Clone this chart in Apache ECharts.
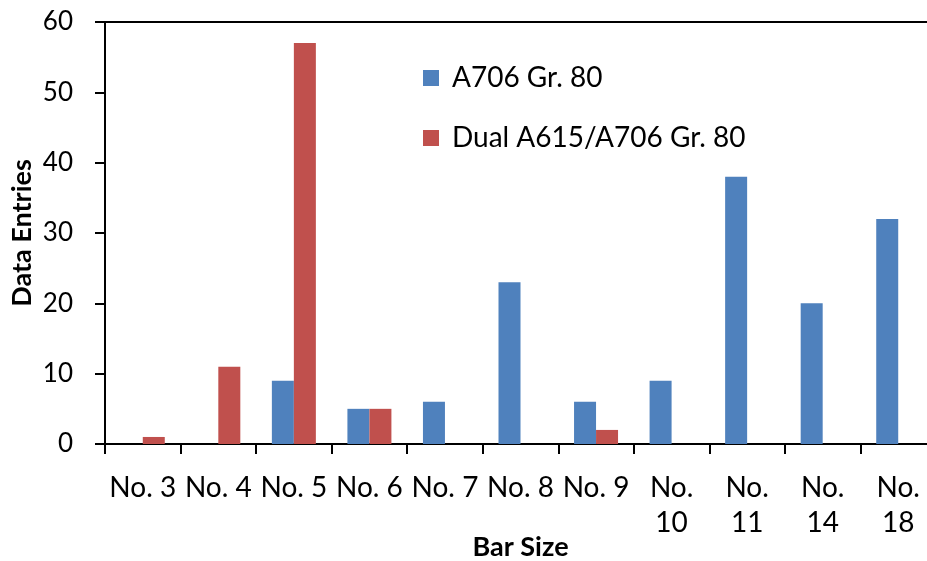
<!DOCTYPE html>
<html>
<head>
<meta charset="utf-8">
<script src="https://cdn.jsdelivr.net/npm/echarts@6/dist/echarts.min.js"></script>
<style>
  html, body { margin: 0; padding: 0; background: #fff; }
  #chart { width: 927px; height: 561px; }
</style>
</head>
<body>
<div id="chart"></div>
<script>
// Bar sizes on the category axis
const barSizes = ['No. 3', 'No. 4', 'No. 5', 'No. 6', 'No. 7', 'No. 8', 'No. 9', 'No. 10', 'No. 11', 'No. 14', 'No. 18'];
// Number of data entries per bar size
const a706Gr80 = [0, 0, 9, 5, 6, 23, 6, 9, 38, 20, 32];
const dualA615A706Gr80 = [1, 11, 57, 5, 0, 0, 2, 0, 0, 0, 0];
// Value axis ticks
const yTicks = [0, 10, 20, 30, 40, 50, 60];

const FONT = 'Lato, "Liberation Sans", sans-serif';
const chart = echarts.init(document.getElementById('chart'), null, { renderer: 'canvas' });

chart.setOption({
  animation: false,
  backgroundColor: '#ffffff',
  textStyle: { fontFamily: FONT, color: '#000' },
  grid: { left: 105, top: 22, bottom: 117, right: -9, containLabel: false, outerBoundsMode: 'none' },
  legend: {
    orient: 'vertical',
    left: 418,
    top: 55,
    itemWidth: 16,
    itemHeight: 16,
    itemGap: 24,
    icon: 'rect',
    textStyle: { fontFamily: FONT, fontSize: 28, lineHeight: 36, color: '#000', padding: [0, 0, 0, 8] },
    data: ['A706 Gr. 80', 'Dual A615/A706 Gr. 80']
  },
  xAxis: [{
    type: 'category',
    data: barSizes,
    name: 'Bar Size',
    nameLocation: 'middle',
    nameGap: 103,
    nameMoveOverlap: false,
    nameTextStyle: { fontFamily: FONT, fontSize: 27, fontWeight: 'bold', color: '#000', verticalAlign: 'middle' },
    axisLine: { lineStyle: { color: '#000', width: 2 } },
    axisTick: { show: true, length: 10, lineStyle: { color: '#000', width: 2 }, alignWithLabel: false },
    axisLabel: {
      interval: 0,
      margin: 26,
      fontFamily: FONT,
      fontSize: 28,
      lineHeight: 35,
      color: '#000',
      formatter: function (v) { return v.length > 5 ? v.replace(' ', '\n') : v; }
    },
    splitLine: { show: false }
  }, {
    type: 'category',
    position: 'top',
    data: barSizes,
    axisLine: { show: true, lineStyle: { color: '#000', width: 2 } },
    axisTick: { show: false },
    axisLabel: { show: false },
    splitLine: { show: false }
  }],
  yAxis: {
    type: 'value',
    min: yTicks[0],
    max: yTicks[yTicks.length - 1],
    interval: yTicks[1] - yTicks[0],
    name: 'Data Entries',
    nameLocation: 'middle',
    nameGap: 83,
    nameMoveOverlap: false,
    nameRotate: 90,
    nameTextStyle: { fontFamily: FONT, fontSize: 27, fontWeight: 'bold', color: '#000', verticalAlign: 'middle' },
    axisLine: { show: true, lineStyle: { color: '#000', width: 2 } },
    axisTick: { show: true, length: 10, lineStyle: { color: '#000', width: 2 } },
    axisLabel: { margin: 32, fontFamily: FONT, fontSize: 26, color: '#000' },
    splitLine: { show: false }
  },
  series: [{
    name: 'A706 Gr. 80',
    type: 'bar',
    data: a706Gr80,
    barWidth: 22,
    barGap: '0%',
    itemStyle: { color: '#4F81BD' }
  }, {
    name: 'Dual A615/A706 Gr. 80',
    type: 'bar',
    data: dualA615A706Gr80,
    barWidth: 22,
    barGap: '0%',
    itemStyle: { color: '#C0504D' }
  }]
});
</script>
</body>
</html>
